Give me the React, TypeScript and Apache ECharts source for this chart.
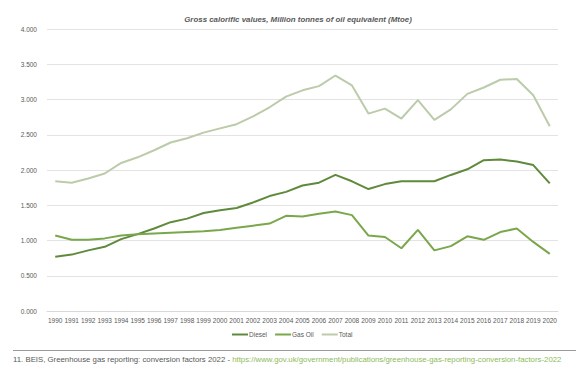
import React, { useEffect, useRef } from "react";
import * as echarts from "echarts";

const years = [
  "1990","1991","1992","1993","1994","1995","1996","1997","1998","1999",
  "2000","2001","2002","2003","2004","2005","2006","2007","2008","2009",
  "2010","2011","2012","2013","2014","2015","2016","2017","2018","2019","2020",
];
const diesel = [
  0.77, 0.8, 0.86, 0.91, 1.02, 1.09, 1.17, 1.26, 1.31, 1.39,
  1.43, 1.46, 1.54, 1.63, 1.69, 1.78, 1.82, 1.93, 1.84, 1.73,
  1.8, 1.84, 1.84, 1.84, 1.93, 2.01, 2.14, 2.15, 2.12, 2.07, 1.81,
];
const gasOil = [
  1.07, 1.01, 1.01, 1.03, 1.07, 1.09, 1.1, 1.11, 1.12, 1.13,
  1.15, 1.18, 1.21, 1.24, 1.35, 1.34, 1.38, 1.41, 1.36, 1.07,
  1.05, 0.89, 1.15, 0.86, 0.92, 1.06, 1.01, 1.12, 1.17, 0.98, 0.81,
];
const total = [
  1.84, 1.82, 1.88, 1.95, 2.1, 2.18, 2.28, 2.39, 2.45, 2.53,
  2.59, 2.65, 2.76, 2.89, 3.04, 3.13, 3.19, 3.34, 3.2, 2.8,
  2.87, 2.73, 2.99, 2.71, 2.86, 3.08, 3.17, 3.28, 3.29, 3.06, 2.62,
];

const titleText = "Gross calorific values, Million tonnes of oil equivalent (Mtoe)";
const footText = "11. BEIS, Greenhouse gas reporting: conversion factors 2022 - ";
const footLink = "https://www.gov.uk/government/publications/greenhouse-gas-reporting-conversion-factors-2022";

const C_DIESEL = "#5f8a3c";
const C_GAS = "#7aa64c";
const C_TOTAL = "#bccbaa";

export default function App() {
  const ref = useRef<HTMLDivElement>(null);
  useEffect(() => {
    if (!ref.current) return;
    const chart = echarts.init(ref.current, null, { renderer: "svg" });
    const font = "Liberation Sans, Arial, sans-serif";
    const mk = (name: string, data: number[], color: string) => ({
      name,
      type: "line",
      data,
      symbol: "none",
      lineStyle: { color, width: 2 },
      itemStyle: { color },
    });
    chart.setOption({
      animation: false,
      backgroundColor: "#ffffff",
      textStyle: { fontFamily: font },
      title: {
        text: titleText,
        left: 293,
        top: 10,
        textAlign: "center",
        textStyle: {
          fontSize: 7.9,
          fontWeight: "bold",
          fontStyle: "italic",
          color: "#595959",
          fontFamily: font,
        },
      },
      grid: { left: 47, right: 18, top: 29, bottom: 65 },
      xAxis: {
        type: "category",
        data: years,
        boundaryGap: true,
        axisLine: { show: true, lineStyle: { color: "#d9d9d9" } },
        axisTick: { show: false },
        axisLabel: { color: "#595959", fontSize: 6.5, margin: 6, interval: 0, fontFamily: font },
      },
      yAxis: {
        type: "value",
        min: 0,
        max: 4,
        interval: 0.5,
        axisLine: { show: false },
        axisTick: { show: false },
        splitLine: { lineStyle: { color: "#e3e3e3" } },
        axisLabel: {
          color: "#595959",
          fontSize: 6.5,
          margin: 10,
          fontFamily: font,
          formatter: (v: number) => v.toFixed(3),
        },
      },
      legend: {
        data: ["Diesel", "Gas Oil", "Total"],
        left: 232,
        top: 331,
        itemWidth: 16,
        itemHeight: 2,
        itemGap: 8,
        icon: "rect",
        padding: 0,
        textStyle: { fontSize: 6.5, color: "#595959", padding: [0, 0, 0, -4] },
      },
      graphic: [
        {
          type: "line",
          shape: { x1: 13, y1: 350.5, x2: 576, y2: 350.5 },
          style: { stroke: "#9a9a9a", lineWidth: 1 },
        },
        {
          type: "text",
          x: 13,
          y: 355,
          style: {
            text: "{a|" + footText + "}{b|" + footLink + "}",
            rich: {
              a: { fontSize: 7.8, fill: "#595959", fontFamily: font },
              b: { fontSize: 7.8, fill: "#8dbb5a", fontFamily: font },
            },
          },
        },
      ],
      series: [mk("Diesel", diesel, C_DIESEL), mk("Gas Oil", gasOil, C_GAS), mk("Total", total, C_TOTAL)],
    });
    return () => chart.dispose();
  }, []);
  return <div ref={ref} style={{ width: 576, height: 376, position: "absolute", left: 0, top: 0 }} />;
}
